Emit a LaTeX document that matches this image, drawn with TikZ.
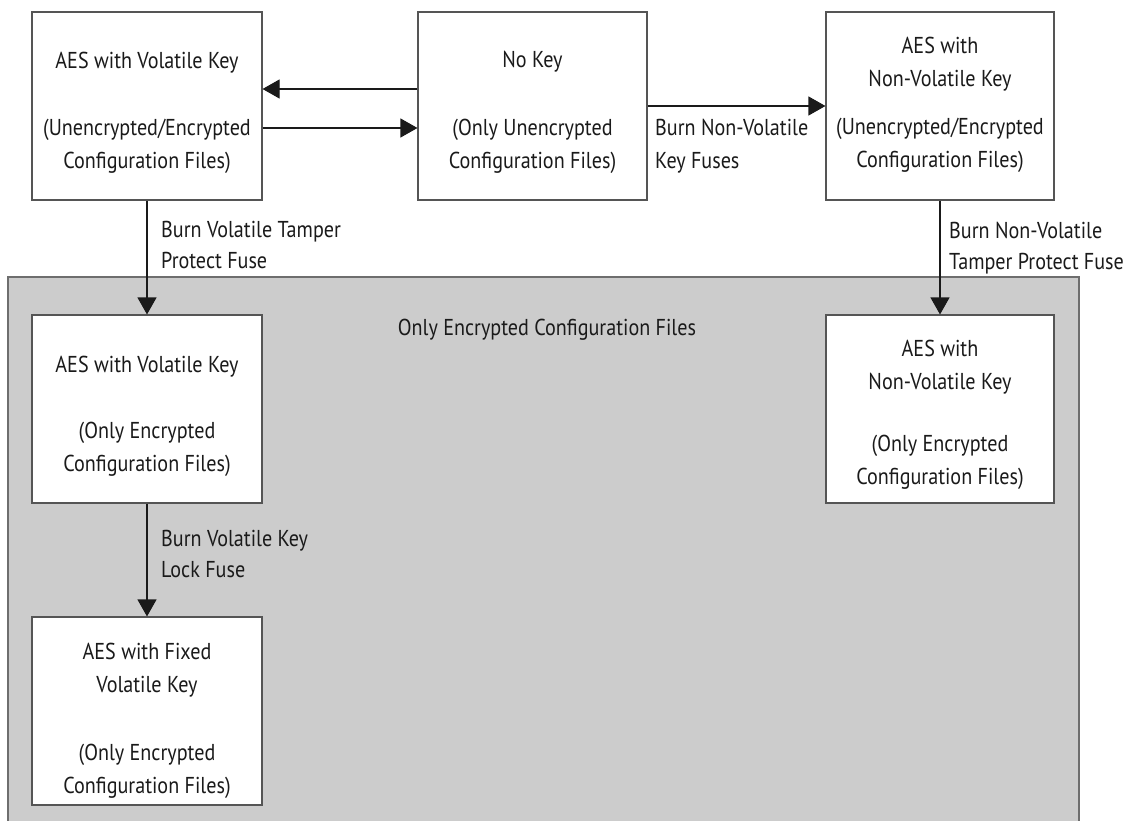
\documentclass[tikz,border=0pt]{standalone}
\usepackage{fontspec}
\setmainfont{PT Sans}[FakeStretch=0.875]
\usetikzlibrary{arrows.meta}
\definecolor{boxline}{HTML}{555555}
\definecolor{zonefill}{HTML}{CCCCCC}
\definecolor{zoneline}{HTML}{6E6E6E}
\definecolor{ink}{HTML}{1A1A1A}
\tikzset{
  statebox/.style={draw=boxline, line width=1.1pt, fill=white, minimum width=230pt, minimum height=188pt, inner sep=0pt},
  boxtext/.style={align=center, inner sep=0pt, text=ink, font=\fontsize{23}{33}\selectfont},
  fuselabel/.style={align=left, anchor=west, inner sep=0pt, text=ink, font=\fontsize{23}{31}\selectfont},
  arr/.style={draw=ink, line width=1.1pt, -{Triangle[length=17pt,width=19pt]}},
}
\begin{document}
\begin{tikzpicture}[x=1pt,y=-1pt]
\useasboundingbox (0,0) rectangle (1127,821);

% shaded zone for the encrypted-only states
\fill[zonefill] (8,277) rectangle (1079,821);
\draw[zoneline, line width=1.4pt] (8,821) -- (8,277) -- (1079,277) -- (1079,821);
\node[boxtext] (zonetitle) at (547,330) {Only Encrypted Configuration Files};

% state boxes
\node[statebox] (vol) at (147,106) {};
\node[statebox, minimum width=229pt] (nokey) at (532.5,106) {};
\node[statebox, minimum width=228pt] (nvol) at (940,106) {};
\node[statebox, minimum width=228pt] (nvolenc) at (940,409) {};
\node[statebox] (volenc) at (147,409) {};
\node[statebox] (fixed) at (147,711) {};

\node[boxtext] (volt) at (147,113) {AES with Volatile Key\\[34pt](Unencrypted/Encrypted\\Configuration Files)};
\node[boxtext] (nokeyt) at (532.5,112.5) {No Key\\[35pt](Only Unencrypted\\Configuration Files)};
\node[boxtext] (nvolt) at (940,105) {AES with\\Non-Volatile Key\\[15pt](Unencrypted/Encrypted\\Configuration Files)};
\node[boxtext] (nvolenct) at (940,415) {AES with\\Non-Volatile Key\\[29pt](Only Encrypted\\Configuration Files)};
\node[boxtext] (volenct) at (147,416) {AES with Volatile Key\\[33pt](Only Encrypted\\Configuration Files)};
\node[boxtext] (fixedt) at (147,720.5) {AES with Fixed\\Volatile Key\\[35pt](Only Encrypted\\Configuration Files)};

% transitions
\draw[arr] (nokey.west |- 0,89) -- (vol.east |- 0,89);
\draw[arr] (vol.east |- 0,128) -- (nokey.west |- 0,128);
\draw[arr] (nokey.east) -- (nvol.west);
\draw[arr] (vol.south) -- (volenc.north);
\draw[arr] (nvol.south) -- (nvolenc.north);
\draw[arr] (volenc.south) -- (fixed.north);

% transition labels
\node[fuselabel] (lbl1) at (161,245) {Burn Volatile Tamper\\Protect Fuse};
\node[fuselabel, font=\fontsize{23}{33}\selectfont] (lbl2) at (655,146.5) {Burn Non-Volatile\\Key Fuses};
\node[fuselabel] (lbl3) at (949,248) {Burn Non-Volatile\\Tamper Protect Fuse};
\node[fuselabel] (lbl4) at (161,554) {Burn Volatile Key\\Lock Fuse};
\end{tikzpicture}
\end{document}
